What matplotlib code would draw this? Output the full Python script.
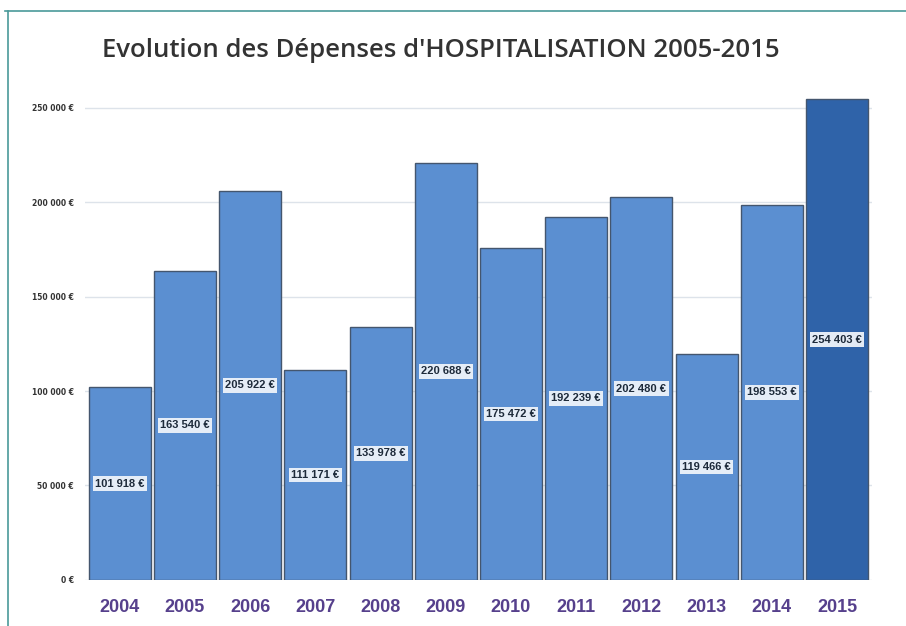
import matplotlib.pyplot as plt
from matplotlib.lines import Line2D

years = ['2004', '2005', '2006', '2007', '2008', '2009', '2010', '2011', '2012', '2013', '2014', '2015']
depenses = [101918, 163540, 205922, 111171, 133978, 220688, 175472, 192239, 202480, 119466, 198553, 254403]
yticks = [0, 50000, 100000, 150000, 200000, 250000]


def euro(v):
    if v == 0:
        return '0 €'
    return '{:,}'.format(v).replace(',', ' ') + ' €'


fig = plt.figure(figsize=(9.06, 6.26), dpi=100)
ax = fig.add_axes([0.094, 0.0735, 0.868, 0.8])

colors = ['#5b8fd1'] * (len(years) - 1) + ['#2f63a9']
x = range(len(years))
bars = ax.bar(x, depenses, width=0.95, color=colors, edgecolor='#44566e', linewidth=1.0, zorder=2)

# value labels in the middle of each bar
for xi, v in zip(x, depenses):
    ax.text(xi, v / 2, euro(v), ha='center', va='center', fontsize=8, fontweight='bold',
            color='#1d2a3a', family='Liberation Sans', zorder=3,
            bbox=dict(boxstyle='square,pad=0.2', fc='#eef3fa', ec='none', alpha=0.95))

ax.set_xlim(-0.53, len(years) - 0.47)
ax.set_ylim(0, 265000)
ax.set_yticks(yticks)
ax.set_yticklabels([euro(t) for t in yticks], fontsize=5.5, fontweight='bold', color='#333333')
ax.set_xticks(list(x))
ax.set_xticklabels(years, fontsize=13, fontweight='bold', color='#56408c', family='Liberation Sans')
ax.tick_params(axis='y', length=0, pad=8)
ax.tick_params(axis='x', length=0, pad=14)
ax.grid(axis='y', color='#dde3ea', linewidth=1, zorder=0)
for s in ax.spines.values():
    s.set_visible(False)

fig.text(0.486, 0.919, "Evolution des Dépenses d'HOSPITALISATION 2005-2015", ha='center', va='center',
         fontsize=18.5, fontweight='semibold', color='#333333', family='Open Sans')

# teal frame on top and left
fig.add_artist(Line2D([0.006, 1.0], [0.983, 0.983], color='#4a9a9a', linewidth=1.2))
fig.add_artist(Line2D([0.009, 0.009], [0.0, 0.983], color='#4a9a9a', linewidth=1.2))

fig.savefig('out.png', dpi=100)
